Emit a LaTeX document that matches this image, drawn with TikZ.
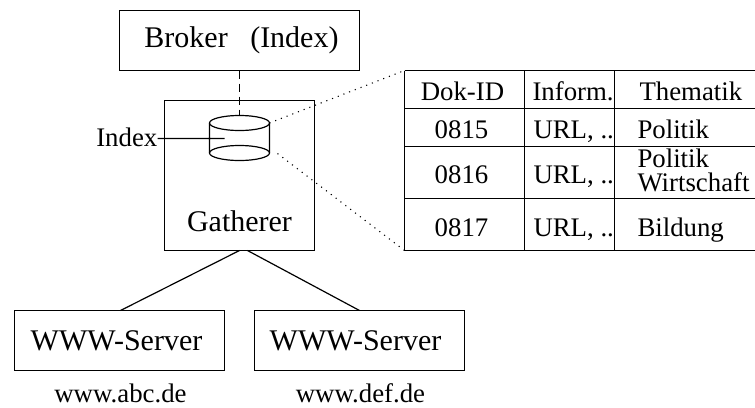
\documentclass[tikz,border=0pt]{standalone}
\usepackage{fontspec}
\setmainfont{Liberation Serif}
\usetikzlibrary{positioning, shapes.geometric}

\tikzset{
    big/.style={font=\fontsize{30}{30}\selectfont},
    small/.style={font=\fontsize{26.8}{24}\selectfont},
    box/.style={draw, line width=1.2pt, inner sep=0pt, outer sep=0pt},
    cell/.style={small, inner sep=0pt, outer sep=0pt},
    drum/.style={ellipse, draw, line width=1.2pt, minimum width=60pt, minimum height=15pt, inner sep=0pt, outer sep=0pt},
    rule/.style={line width=1.2pt},
}

\begin{document}
\begin{tikzpicture}[x=1pt, y=-1pt]
\useasboundingbox (-0.5,-0.5) rectangle (754.5,406.5);

\node[box, minimum width=240pt, minimum height=60pt] (broker) at (239,40) {};
\node[big, inner sep=0pt] (brokertxt) at (241,40) {Broker\ \ \ (Index)};
\node[box, minimum width=150pt, minimum height=150pt, below=30pt of broker] (gatherer) {};
\node[big, inner sep=0pt, anchor=base] (gatherertxt) at (239,231) {Gatherer};

\node[drum] (idxtop) at (239,122.5) {};
\node[drum] (idxbot) at (239,152.5) {};
\node[small, inner sep=0pt, anchor=base east] (idxlbl) at (157,146) {Index};
\coordinate (idxin) at (224,138);
\coordinate (idxout) at (277,153);

\node[box, minimum width=210pt, minimum height=60pt] (srva) at (119,340) {};
\node[box, minimum width=210pt, minimum height=60pt, right=30pt of srva] (srvb) {};
\node[big, inner sep=0pt, anchor=base] (srvatxt) at (116,350) {WWW-Server};
\node[big, inner sep=0pt, anchor=base] (srvbtxt) at (355,350) {WWW-Server};
\node[small, inner sep=0pt, anchor=base] (urla) at (120,402) {www.abc.de};
\node[small, inner sep=0pt, anchor=base] (urlb) at (360,402) {www.def.de};
\coordinate (gatl) at (239,250);
\coordinate (gatr) at (247,250);
\coordinate (srval) at (120,310);
\coordinate (srvbl) at (359,310);

% table
\coordinate (t1) at (404,70);
\coordinate (t2) at (404,108);
\coordinate (t3) at (404,146);
\coordinate (t4) at (404,198);
\coordinate (t5) at (404,250);
\coordinate (e1) at (755,70);
\coordinate (e2) at (755,108);
\coordinate (e3) at (755,146);
\coordinate (e4) at (755,198);
\coordinate (e5) at (755,250);
\coordinate (a1) at (524,70);
\coordinate (a5) at (524,250);
\coordinate (b1) at (614,70);
\coordinate (b5) at (614,250);

\node[cell, anchor=base] (hid) at (462,100) {Dok-ID};
\node[cell, anchor=base west] (hinf) at (532,100) {Inform.};
\node[cell, anchor=base west] (hthe) at (639,100) {Thematik};
\node[cell, anchor=base] (id1) at (461,138) {0815};
\node[cell, anchor=base] (id2) at (461,183) {0816};
\node[cell, anchor=base] (id3) at (461,236) {0817};
\node[cell, anchor=base west] (inf1) at (533,138) {URL, ..};
\node[cell, anchor=base west] (inf2) at (533,183) {URL, ..};
\node[cell, anchor=base west] (inf3) at (533,236) {URL, ..};
\node[cell, anchor=base west] (the1) at (637,138) {Politik};
\node[cell, anchor=base west, align=left] (the2) at (637,191) {Politik\\Wirtschaft};
\node[cell, anchor=base west] (the3) at (637,236) {Bildung};

\draw[rule]
    (t1) -- (e1)
    (t2) -- (e2)
    (t3) -- (e3)
    (t4) -- (e4)
    (t5) -- (e5)
    (t1) -- (t5)
    (a1) -- (a5)
    (b1) -- (b5)
    ;

\draw[rule]
    (idxtop.west) -- (idxbot.west)
    (idxtop.east) -- (idxbot.east)
    (idxlbl.east |- idxin) -- (idxin)
    (gatl) -- (srval)
    (gatr) -- (srvbl)
    ;
\draw[rule, dash pattern=on 8pt off 5pt] (broker) -- (idxtop);
\draw[line width=1.1pt, dash pattern=on 1.1pt off 5pt]
    (idxtop.east) -- (t1)
    (idxout) -- (t5)
    ;
\end{tikzpicture}
\end{document}
